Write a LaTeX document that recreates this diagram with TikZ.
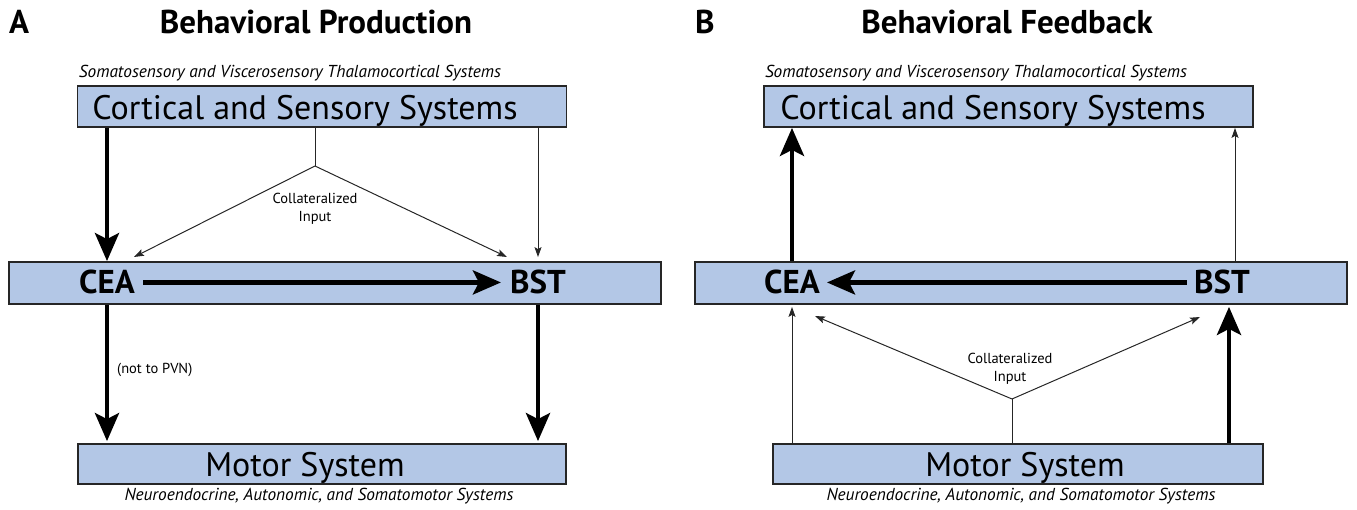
\documentclass[tikz,border=0pt]{standalone}
\usepackage{fontspec}
\setmainfont{PT Sans}
\usetikzlibrary{arrows.meta,positioning}
\definecolor{boxblue}{RGB}{179,199,230}

\tikzset{
    box/.style={draw=black!85, line width=1.8pt, fill=boxblue, inner sep=0pt},
    boxtext/.style={inner sep=0pt, font=\fontsize{34}{38}\selectfont},
    region/.style={inner sep=0pt, font=\bfseries\fontsize{33}{36}\selectfont},
    subtitle/.style={inner sep=0pt, font=\itshape\fontsize{17.3}{20}\selectfont},
    heading/.style={inner sep=0pt, font=\bfseries\fontsize{33}{36}\selectfont},
    note/.style={inner sep=0pt, align=center, font=\fontsize{14.5}{18}\selectfont},
    heavy/.style={line width=4.5pt, -{Stealth[length=28pt,width=24pt,inset=6pt]}},
    light/.style={line width=1pt, black!85, -{Stealth[length=10pt,width=7pt,inset=2pt]}},
}

\begin{document}
\begin{tikzpicture}[x=1pt, y=-1pt]
    \useasboundingbox (0,0) rectangle (1357,510);

    % Panel A: behavioral production
    \node[heading, anchor=base west] (labA) at (9,34) {A};
    \node[heading, anchor=base] (titleA) at (316,34) {Behavioral Production};
    \node[subtitle, anchor=base] (somA) at (290,78) {Somatosensory and Viscerosensory Thalamocortical Systems};

    \node[box, minimum width=489pt, minimum height=41pt] (cortA) at (322,106.5) {};
    \node[boxtext, anchor=base] (cortAtext) at (305,120) {Cortical and Sensory Systems};

    \node[box, minimum width=652pt, minimum height=42pt] (hubA) at (335,283) {};
    \node[region, anchor=base] (ceaA) at (107,294) {CEA};
    \node[region, anchor=base] (bstA) at (538,294) {BST};

    \node[box, minimum width=488pt, minimum height=40pt] (motorA) at (322,464) {};
    \node[boxtext, anchor=base] (motorAtext) at (305,476) {Motor System};
    \node[subtitle, anchor=base] (neuroA) at (319,500) {Neuroendocrine, Autonomic, and Somatomotor Systems};

    % collateral fork from the cortex
    \coordinate (forkA) at (315,166);
    \coordinate (tipA1) at (134,257);
    \coordinate (tipA2) at (507,257);
    \node[note] (collA) at (315,209) {Collateralized\\Input};
    \node[note, anchor=west] (pvnA) at (117,370) {(not to PVN)};

    \draw[line width=1pt, black!85] (cortA.south -| forkA) -- (forkA);
    \draw[light] (forkA) -- (tipA1);
    \draw[light] (forkA) -- (tipA2);

    % arrows of panel A
    \draw[heavy] (cortA.south -| ceaA) -- (hubA.north -| ceaA);
    \draw[light, shorten >=4pt] (cortA.south -| bstA) -- (hubA.north -| bstA);
    \draw[heavy, shorten <=8pt, shorten >=9pt] (ceaA.east) -- (bstA.west);
    \draw[heavy, shorten >=2pt] (hubA.south -| ceaA) -- (motorA.north -| ceaA);
    \draw[heavy, shorten >=2pt] (hubA.south -| bstA) -- (motorA.north -| bstA);

    % Panel B: behavioral feedback
    \node[heading, anchor=base west] (labB) at (695,34) {B};
    \node[heading, anchor=base] (titleB) at (1007,34) {Behavioral Feedback};
    \node[subtitle, anchor=base] (somB) at (976,78) {Somatosensory and Viscerosensory Thalamocortical Systems};

    \node[box, minimum width=489pt, minimum height=41pt] (cortB) at (1008.5,106.5) {};
    \node[boxtext, anchor=base] (cortBtext) at (993,120) {Cortical and Sensory Systems};

    \node[box, minimum width=652pt, minimum height=42pt] (hubB) at (1021,283) {};
    \node[region, anchor=base] (ceaB) at (792,294) {CEA};
    \node[region, anchor=base] (bstB) at (1222,294) {BST};

    \node[box, minimum width=490pt, minimum height=40pt] (motorB) at (1018,464) {};
    \node[boxtext, anchor=base] (motorBtext) at (1025,476) {Motor System};
    \node[subtitle, anchor=base] (neuroB) at (1021,500) {Neuroendocrine, Autonomic, and Somatomotor Systems};

    % collateral fork from the motor system
    \coordinate (forkB) at (1012,399);
    \coordinate (tipB1) at (815,316);
    \coordinate (tipB2) at (1200,317);
    \coordinate (upB) at (1235,283);
    \coordinate (heavyB) at (1229,283);
    \node[note] (collB) at (1010,369) {Collateralized\\Input};

    \draw[line width=1pt, black!85] (motorB.north -| forkB) -- (forkB);
    \draw[light] (forkB) -- (tipB1);
    \draw[light] (forkB) -- (tipB2);

    % arrows of panel B
    \draw[heavy] (hubB.north -| ceaB) -- (cortB.south -| ceaB);
    \draw[light] (hubB.north -| upB) -- (cortB.south -| upB);
    \draw[heavy, shorten <=7pt, shorten >=7pt] (bstB.west) -- (ceaB.east);
    \draw[light, shorten >=2pt] (motorB.north -| ceaB) -- (hubB.south -| ceaB);
    \draw[heavy, shorten >=2pt] (motorB.north -| heavyB) -- (hubB.south -| heavyB);
\end{tikzpicture}
\end{document}
